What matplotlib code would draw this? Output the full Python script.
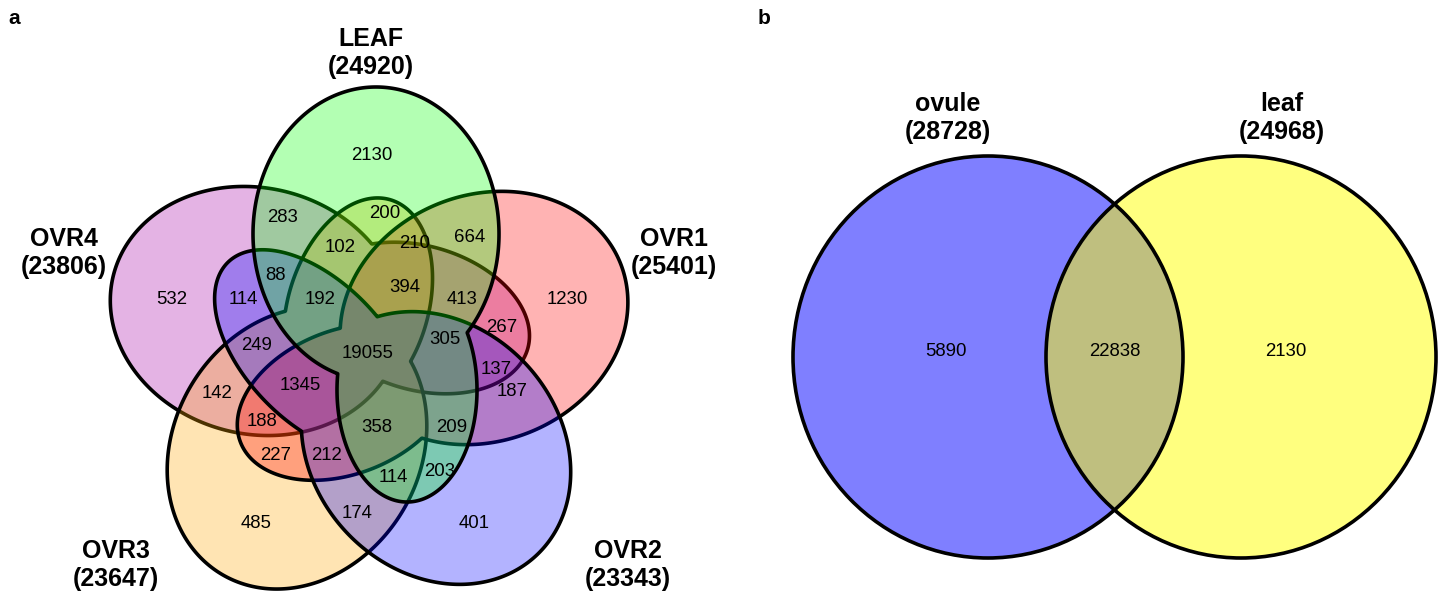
import numpy as np
import matplotlib
matplotlib.use("Agg")
import matplotlib.pyplot as plt
from matplotlib.patches import Ellipse

plt.rcParams['font.family'] = ['Liberation Sans', 'DejaVu Sans']

# ---- data, panel a (five sets) ----
set_names = ["LEAF", "OVR1", "OVR2", "OVR3", "OVR4"]
set_totals = [24920, 25401, 23343, 23647, 23806]
set_colors = ["#00ff00", "#ff0000", "#0000ff", "#ffa500", "#a500a5"]
region_counts = [2130, 283, 200, 664, 102, 210, 394, 88, 192, 413, 532, 114,
                 1230, 267, 249, 19055, 305, 137, 142, 1345, 187, 188, 358,
                 209, 227, 212, 114, 203, 485, 174, 401]

# ---- data, panel b (two sets) ----
names_b = ["ovule", "leaf"]
totals_b = [28728, 24968]
counts_b = [5890, 22838, 2130]
colors_b = ["#0000ff", "#ffff00"]

# ---- layout (pixels) ----
region_xy = [(372, 155), (283, 218), (385, 214), (470, 238), (340, 248),
             (415, 244), (405, 287), (276, 275), (320, 300), (462, 299),
             (172, 300), (243, 300), (567, 300), (502, 327), (257, 346),
             (368, 353), (445, 340), (496, 369), (217, 393), (300, 386),
             (512, 392), (262, 421), (377, 428), (452, 427), (276, 455),
             (326, 455), (393, 478), (440, 472), (256, 523), (357, 513),
             (474, 524)]
label_xy = [(371, 53), (674, 253), (628, 565), (116, 565), (64, 253)]

# each set = outer ellipse + inner lobe (centre, angle, semi-axes)
big_xy = [(376, 234), (484, 318), (436, 448), (297, 448), (256, 311)]
big_deg = [0, 68, 137, 211, 284]
big_ab = (123, 147)
lobe_xy = [(407, 390), (345, 402), (315, 352), (358, 307), (420, 318)]
lobe_deg = [0, 69, 136, 197, 286]
lobe_ab = [(70, 112), (72, 112), (70, 125), (70, 112), (72, 112)]
draw_order = [4, 3, 1, 2, 0]

fig = plt.figure(figsize=(14.4, 5.99), dpi=100)
ax = fig.add_axes([0, 0, 1, 1])


def ell(X, Y, cx, cy, a, b, deg):
    th = np.radians(deg)
    dx, dy = X - cx, Y - cy
    c, s = np.cos(th), np.sin(th)
    u = dx * c + dy * s
    v = -dx * s + dy * c
    return np.hypot(u / a, v / b) - 1


step = 0.5
xs = np.arange(0, 740, step) + step / 2
ys = np.arange(0, 599, step) + step / 2
X, Y = np.meshgrid(xs, ys)

for n, k in enumerate(draw_order):
    f = np.minimum(ell(X, Y, *big_xy[k], *big_ab, big_deg[k]),
                   ell(X, Y, *lobe_xy[k], *lobe_ab[k], lobe_deg[k]))
    rgba = np.zeros(X.shape + (4,))
    rgba[..., :3] = matplotlib.colors.to_rgb(set_colors[k])
    rgba[..., 3] = np.where(f < 0, 0.3, 0.0)
    ax.imshow(rgba, extent=(0, 740, 599, 0), origin='upper',
              interpolation='nearest', aspect='auto', zorder=2 * n + 1)
    ax.contour(xs, ys, f, levels=[0], colors='black', linewidths=2.6,
               zorder=2 * n + 2)

for (x, y), v in zip(region_xy, region_counts):
    ax.text(x, y, str(v), ha='center', va='center', fontsize=13.4, zorder=30)

for (x, y), name, tot in zip(label_xy, set_names, set_totals):
    ax.text(x, y, f"{name}\n({tot})", ha='center', va='center', fontsize=18,
            fontweight='bold', linespacing=1.25, zorder=30)

# ---- panel b ----
circ_xy = [(988, 357), (1241, 357)]
for (x, y), col in zip(circ_xy, colors_b):
    ax.add_patch(Ellipse((x, y), 390, 402, facecolor=col, alpha=0.5,
                         edgecolor='none', zorder=2))
for (x, y) in circ_xy:
    ax.add_patch(Ellipse((x, y), 390, 402, facecolor='none',
                         edgecolor='black', lw=2.6, zorder=3))

for x, v in zip([946, 1115, 1286], counts_b):
    ax.text(x, 352, str(v), ha='center', va='center', fontsize=13.4, zorder=5)
for x, name, tot in zip([948, 1282], names_b, totals_b):
    ax.text(x, 118, f"{name}\n({tot})", ha='center', va='center', fontsize=18,
            fontweight='bold', linespacing=1.25, zorder=5)

ax.text(8, 18, "a", fontsize=15, fontweight='bold', ha='left', va='center')
ax.text(758, 18, "b", fontsize=15, fontweight='bold', ha='left', va='center')

ax.set_xlim(0, 1440)
ax.set_ylim(599, 0)
ax.axis('off')
fig.savefig("out.png", dpi=100)
